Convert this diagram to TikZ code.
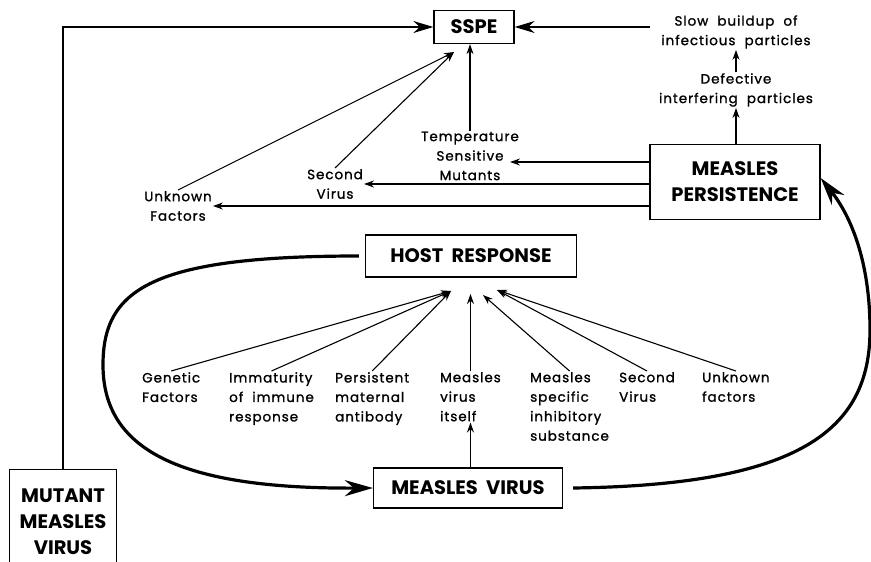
\documentclass[tikz,border=0pt]{standalone}
\usepackage{fontspec}
\setmainfont{Poppins}
\newfontfamily\lblfam[LetterSpace=7, FakeBold=1.2]{Poppins}
\usetikzlibrary{arrows.meta}

\tikzset{
  box/.style={draw, line width=1.3pt, inner sep=4pt, align=center, font=\fontsize{19.5}{26}\selectfont\bfseries},
  lbl/.style={inner sep=1pt, align=left, font=\lblfam\fontsize{13.5}{19.5}\selectfont},
  clbl/.style={lbl, align=center},
  feed/.style={line width=1.1pt, -{Stealth[length=10pt,width=7pt]}},
  big/.style={line width=1.4pt, -{Stealth[length=20pt,width=12pt]}},
  loop/.style={line width=3.2pt, -{Stealth[length=28pt,width=16pt]}},
}

\begin{document}
\begin{tikzpicture}[x=1pt,y=-1pt]
\useasboundingbox (0,0) rectangle (871,562);

% Boxes
\node[box, minimum width=80pt, minimum height=33pt] (sspe) at (474,27) {SSPE};
\node[box, minimum width=170pt, minimum height=75pt] (mp) at (735,182) {MEASLES\\PERSISTENCE};
\node[box, minimum width=211pt, minimum height=42pt] (hr) at (471,256) {HOST\ \ RESPONSE};
\node[box, minimum width=189pt, minimum height=40pt] (mv) at (468,488) {MEASLES\ \ VIRUS};
\node[box, anchor=north, minimum width=107pt, minimum height=104pt] (mut) at (63,469) {MUTANT\\MEASLES\\VIRUS};

% Labels round SSPE
\node[clbl] (slow) at (736,32) {Slow\ \ buildup\ \ of\\infectious\ \ particles};
\node[clbl] (dip) at (736,90) {Defective\\interfering\ \ particles};
\node[clbl] (tsm) at (470,156) {Temperature\\Sensitive\\Mutants};
\node[clbl] (sv1) at (335,184) {Second\\Virus};
\node[clbl] (uf1) at (178,206) {Unknown\\Factors};

% Labels under host response
\node[lbl, anchor=north west] (gen) at (141,371) {Genetic\\Factors};
\node[lbl, anchor=north west] (imm) at (228,371) {Immaturity\\of\ \ immune\\response};
\node[lbl, anchor=north west] (pma) at (334,371) {Persistent\\maternal\\antibody};
\node[lbl, anchor=north west] (mvi) at (439,371) {Measles\\virus\\itself};
\node[lbl, anchor=north west] (msi) at (529,371) {Measles\\specific\\inhibitory\\substance};
\node[lbl, anchor=north west] (sv2) at (618,371) {Second\\Virus};
\node[lbl, anchor=north west] (uf2) at (701,371) {Unknown\\factors};

% Arrow targets
\coordinate (sspein) at (454,52);
\coordinate (hrL) at (451,291);
\coordinate (hrM) at (472,294);
\coordinate (hrC) at (483,295);
\coordinate (hrR) at (497,290);

% Into SSPE
\draw[big] (mut.north) |- (sspe.west);
\draw[big] ([xshift=-10pt]slow.west |- sspe.east) -- (sspe.east);
\draw[feed] (dip.north) -- (slow.south);
\draw[feed] (dip.south |- mp.north) -- (dip.south);
\draw[feed] (tsm.north) -- (tsm.north |- sspe.south);
\draw[feed] (sv1.north) -- (sspein);
\draw[feed] (uf1.north) -- (sspein);

% Out of measles persistence
\draw[feed] ([yshift=20pt]mp.west) -- ([xshift=-10pt,yshift=20pt]mp.west -| tsm.east);
\draw[feed] (mp.west |- sv1.east) -- (sv1.east);
\draw[feed] (mp.west |- uf1.east) -- (uf1.east);

% Into host response
\foreach \n in {gen,imm,pma}
  \draw[feed] (\n.north) -- (hrL);
\draw[feed] (mvi.north) -- (mvi.north |- hrM);
\draw[feed] (msi.north) -- (hrC);
\foreach \n in {sv2,uf2}
  \draw[feed] (\n.north) -- (hrR);
\draw[feed] (mvi.south |- mv.north) -- (mvi.south);

% Big loops
\draw[loop] ([xshift=-6pt]hr.west) .. controls (150,256) and (103,290) .. (103,365)
  .. controls (103,450) and (180,489) .. (mv.west);
\draw[loop] ([xshift=10pt]mv.east) .. controls (800,485) and (870,430) .. (870,330)
  .. controls (870,260) and (850,215) .. ([yshift=4pt]mp.east);
\end{tikzpicture}
\end{document}
